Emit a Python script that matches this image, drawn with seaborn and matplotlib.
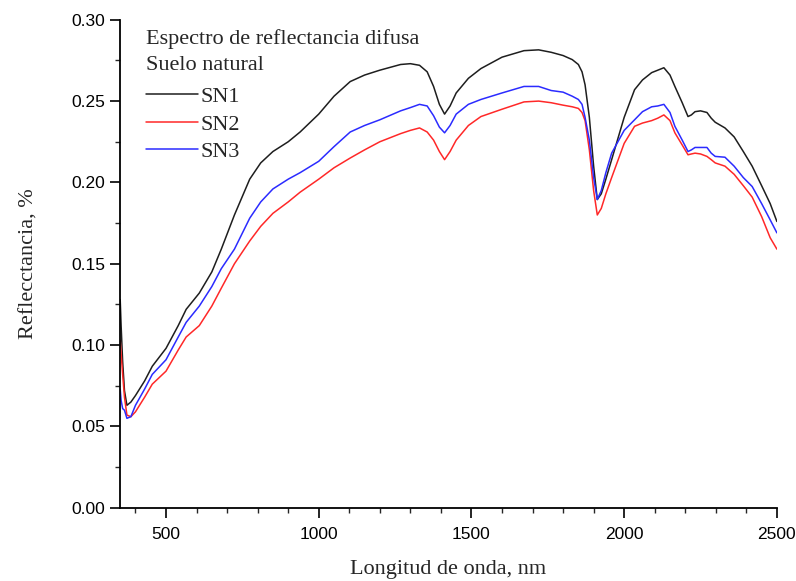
import numpy as np
import pandas as pd
import matplotlib
matplotlib.use("Agg")
import matplotlib.pyplot as plt
from matplotlib.ticker import MultipleLocator, FormatStrFormatter
import seaborn as sns

# longitudes de onda (nm)
wl = [350, 353, 358, 364, 372, 385, 400, 430, 455, 500, 540, 566, 609, 650, 681, 724,
      774, 810, 850, 900, 939, 1000, 1050, 1103, 1150, 1200, 1268, 1300, 1330, 1355,
      1376, 1395, 1412, 1430, 1450, 1490, 1531, 1600, 1672, 1720, 1761, 1800, 1830,
      1850, 1862, 1872, 1886, 1900, 1912, 1925, 1940, 1959, 2000, 2034, 2060, 2090,
      2110, 2130, 2150, 2166, 2190, 2209, 2220, 2232, 2250, 2271, 2285, 2298, 2330,
      2360, 2390, 2419, 2450, 2478, 2500]

sn1 = [0.128, 0.112, 0.090, 0.072, 0.063, 0.065, 0.069, 0.078, 0.087, 0.098, 0.112,
       0.122, 0.132, 0.145, 0.159, 0.180, 0.202, 0.212, 0.219, 0.225, 0.231, 0.242,
       0.253, 0.262, 0.266, 0.269, 0.2725, 0.273, 0.272, 0.268, 0.259, 0.248, 0.242,
       0.247, 0.255, 0.264, 0.270, 0.277, 0.281, 0.2815, 0.280, 0.278, 0.2755, 0.2725,
       0.268, 0.260, 0.240, 0.210, 0.1895, 0.193, 0.202, 0.214, 0.240, 0.257, 0.263,
       0.2675, 0.269, 0.2705, 0.266, 0.259, 0.249, 0.2405, 0.2415, 0.2435, 0.244,
       0.243, 0.2395, 0.237, 0.2335, 0.228, 0.219, 0.210, 0.198, 0.187, 0.176]
sn2 = [0.103, 0.095, 0.082, 0.068, 0.057, 0.056, 0.059, 0.068, 0.076, 0.084, 0.097,
       0.105, 0.112, 0.124, 0.135, 0.150, 0.164, 0.173, 0.181, 0.188, 0.194, 0.202,
       0.209, 0.215, 0.220, 0.225, 0.230, 0.232, 0.2335, 0.231, 0.226, 0.219, 0.214,
       0.219, 0.226, 0.235, 0.2405, 0.245, 0.2495, 0.250, 0.249, 0.2475, 0.2465, 0.2455,
       0.243, 0.238, 0.220, 0.195, 0.180, 0.184, 0.193, 0.203, 0.224, 0.2345, 0.2365,
       0.238, 0.2395, 0.2415, 0.238, 0.2305, 0.223, 0.217, 0.2175, 0.218, 0.2175,
       0.216, 0.214, 0.212, 0.210, 0.205, 0.198, 0.191, 0.179, 0.166, 0.159]
sn3 = [0.073, 0.066, 0.061, 0.060, 0.055, 0.056, 0.063, 0.073, 0.082, 0.091, 0.105,
       0.114, 0.124, 0.136, 0.147, 0.159, 0.178, 0.188, 0.196, 0.202, 0.206, 0.213,
       0.222, 0.231, 0.235, 0.2385, 0.244, 0.246, 0.248, 0.247, 0.241, 0.234, 0.2305,
       0.235, 0.242, 0.248, 0.251, 0.255, 0.259, 0.259, 0.2565, 0.2555, 0.253, 0.251,
       0.248, 0.240, 0.226, 0.203, 0.1895, 0.195, 0.206, 0.218, 0.232, 0.2385, 0.2435,
       0.2465, 0.247, 0.248, 0.243, 0.2345, 0.226, 0.219, 0.220, 0.2215, 0.2215,
       0.2215, 0.218, 0.216, 0.2155, 0.210, 0.203, 0.1975, 0.187, 0.177, 0.169]

muestras = ["SN1", "SN2", "SN3"]
colores = ["#1e1e1e", "#ff2828", "#2b2bff"]

df = pd.DataFrame({
    "wl": wl * 3,
    "R": sn1 + sn2 + sn3,
    "muestra": np.repeat(muestras, len(wl)),
})

sns.set_style("ticks")
serif = "Liberation Serif"
plt.rcParams["font.family"] = ["Liberation Sans", "DejaVu Sans"]

fig = plt.figure(figsize=(7.96, 5.81), dpi=100)
ax = fig.add_axes([0.151, 0.126, 0.825, 0.840])

sns.lineplot(data=df, x="wl", y="R", hue="muestra", palette=colores,
             linewidth=1.1, ax=ax, sort=False)

ax.set_xlim(350, 2500)
ax.set_ylim(0, 0.30)
ax.xaxis.set_major_locator(MultipleLocator(500))
ax.xaxis.set_minor_locator(MultipleLocator(100))
ax.yaxis.set_major_locator(MultipleLocator(0.05))
ax.yaxis.set_minor_locator(MultipleLocator(0.025))
ax.yaxis.set_major_formatter(FormatStrFormatter("%.2f"))
ax.tick_params(which="major", direction="out", length=7.5, width=1.2,
               labelsize=12.5, colors="black")
ax.tick_params(axis="x", which="major", pad=6)
ax.tick_params(axis="y", which="major", pad=3)
ax.tick_params(which="minor", direction="out", length=3.5, width=1.0)
sns.despine(ax=ax)
for s in ["left", "bottom"]:
    ax.spines[s].set_linewidth(1.3)
    ax.spines[s].set_color("black")

ax.set_xlabel("Longitud de onda, nm", fontfamily=serif, fontsize=16, labelpad=13)
ax.set_ylabel("Reflecctancia, %", fontfamily=serif, fontsize=16, labelpad=24)

leg = ax.legend(title="Espectro de reflectancia difusa\nSuelo natural",
                loc="upper left", bbox_to_anchor=(0.026, 1.0), frameon=False,
                prop={"family": serif, "size": 16}, handlelength=2.35,
                labelspacing=0.32, handletextpad=0.1, borderaxespad=0.0)
leg.get_title().set_fontfamily(serif)
leg.get_title().set_fontsize(16)
leg.get_title().set_linespacing(1.55)
leg._legend_box.align = "left"
leg._legend_box.sep = 8

fig.savefig("out.png", dpi=100)
